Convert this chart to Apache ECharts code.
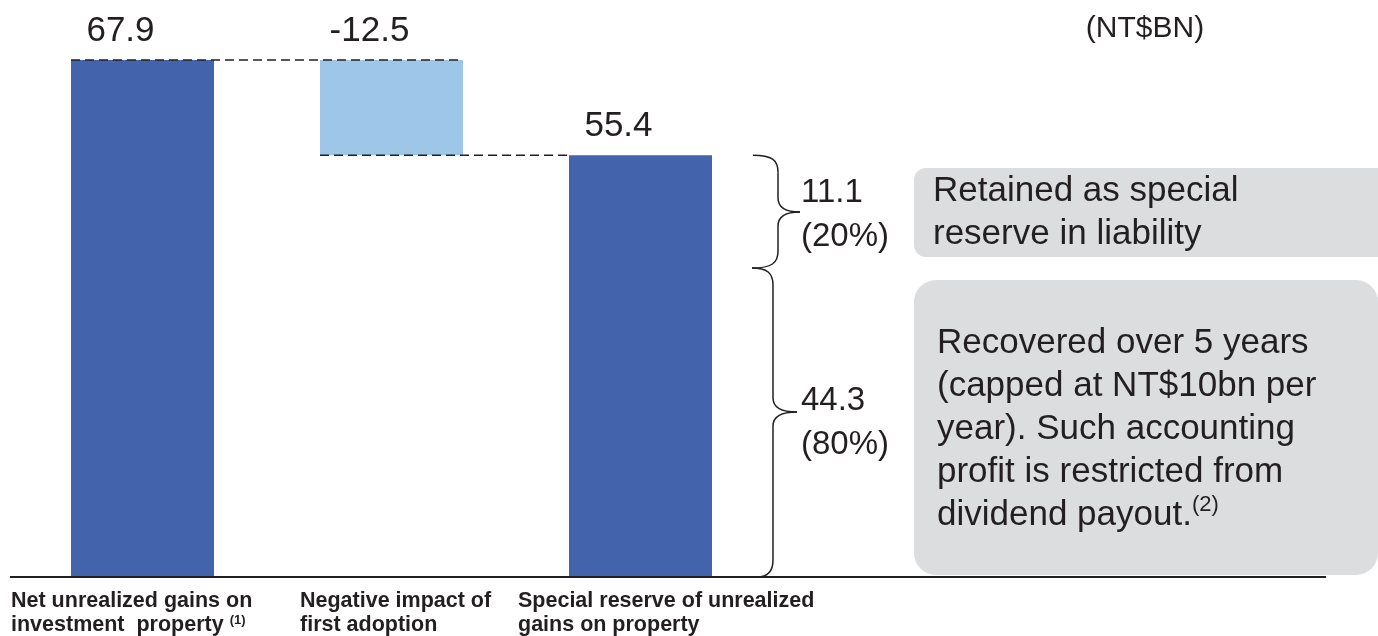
<!DOCTYPE html>
<html><head><meta charset="utf-8">
<script src="https://cdn.jsdelivr.net/npm/echarts@6/dist/echarts.min.js"></script>
<style>html,body{margin:0;padding:0;background:#fff}#c{width:1378px;height:636px}</style>
</head><body><div id="c"></div>
<script>
// ---- data ----
const categories = ['Net unrealized gains on\ninvestment  property', 'Negative impact of\nfirst adoption', 'Special reserve of unrealized\ngains on property'];
const categoryNotes = ['(1)', '', ''];
const values = [67.9, -12.5, 55.4];
const barKinds = ['start', 'delta', 'total'];
const splitValues = [11.1, 44.3];
const splitShares = ['20%', '80%'];
const unitLabel = '(NT$BN)';
const boxTexts = ['Retained as special\nreserve in liability', 'Recovered over 5 years\n(capped at NT$10bn per\nyear). Such accounting\nprofit is restricted from\ndividend payout.'];
const boxNotes = ['', '(2)'];

// ---- waterfall build ----
const bases = [], heights = [];
let running = 0;
values.forEach((v, i) => {
  const k = barKinds[i];
  if (k === 'start') { bases.push(0); heights.push(v); running = v; }
  else if (k === 'delta') {
    if (v < 0) { bases.push(running + v); heights.push(-v); }
    else { bases.push(running); heights.push(v); }
    running += v;
  } else { bases.push(0); heights.push(v); }
});

const FONT = "'Liberation Sans', Arial, sans-serif";
const TXT = '#231f20';
const DARK = '#4363ad', LIGHT = '#9dc6e8', GRAY = '#dcdddf';
const BAR_W = 143;

const chart = echarts.init(document.getElementById('c'), null, {renderer: 'canvas'});
chart.setOption({
  animation: false,
  grid: {left: 18, width: 747, top: 6, bottom: 59},
  xAxis: {type: 'category', data: categories, show: false},
  yAxis: {type: 'value', min: 0, max: 75, show: false},
  series: [
    {type: 'bar', stack: 'w', data: bases, barWidth: BAR_W, itemStyle: {color: 'transparent'}, silent: true},
    {type: 'bar', stack: 'w', barWidth: BAR_W,
      data: heights.map((h, i) => ({value: h, itemStyle: {color: barKinds[i] === 'delta' ? LIGHT : DARK}})),
      label: {show: true, position: 'top', distance: 11, offset: [-22, 0],
        fontFamily: FONT, fontSize: 35, color: TXT,
        formatter: p => String(values[p.dataIndex])}
    }
  ]
});

const px = (i, v) => chart.convertToPixel({seriesIndex: 1}, [i, v]);
const half = BAR_W / 2;
const yZero = px(0, 0)[1];
const yStart = px(0, heights[0])[1];
const yTotal = px(2, values[2])[1];
const x0L = px(0, 0)[0] - half;
const x1L = px(1, 0)[0] - half, x1R = px(1, 0)[0] + half;
const x2L = px(2, 0)[0] - half;

const g = [];
// baseline
g.push({type: 'line', shape: {x1: 10, y1: yZero, x2: 1326, y2: yZero}, style: {stroke: TXT, lineWidth: 2}, z: 10});
// connectors
g.push({type: 'line', shape: {x1: x0L, y1: yStart, x2: x1R, y2: yStart}, style: {stroke: TXT, lineWidth: 1.5, lineDash: [9, 5]}, z: 10});
g.push({type: 'line', shape: {x1: x1L, y1: yTotal, x2: x2L, y2: yTotal}, style: {stroke: TXT, lineWidth: 1.5, lineDash: [9, 5]}, z: 10});

// braces
const BST = {stroke: TXT, lineWidth: 1.5, fill: null};
function brace(y0, y1, ym, xs, xe0, xe1, xt) {
  const bz = (x1, y1_, cpx1, cpy1, cpx2, cpy2, x2, y2) => g.push({type: 'bezierCurve', z: 10, shape: {x1, y1: y1_, cpx1, cpy1, cpx2, cpy2, x2, y2}, style: BST});
  const ln = (x1, y1_, x2, y2) => g.push({type: 'line', z: 10, shape: {x1, y1: y1_, x2, y2}, style: BST});
  bz(xe0, y0, xs - 6, y0, xs, y0 + 5, xs, y0 + 17);
  ln(xs, y0 + 17, xs, ym - 14);
  bz(xs, ym - 14, xs, ym - 4, xs + 8, ym, xt, ym);
  bz(xt, ym, xs + 8, ym, xs, ym + 4, xs, ym + 14);
  ln(xs, ym + 14, xs, y1 - 17);
  bz(xs, y1 - 17, xs, y1 - 5, xs - 6, y1, xe1, y1);
}
const ySplit = 268;
brace(yTotal, ySplit, 212, 778, 753, 752, 800);
brace(ySplit, yZero, 412, 773, 752, 757, 797);

// brace labels
const braceTops = [171, 379];
splitValues.forEach((v, i) => g.push({type: 'text', x: 801, y: braceTops[i], z: 11,
  style: {text: v.toFixed(1) + '\n(' + splitShares[i] + ')', fontFamily: FONT, fontSize: 33, lineHeight: 44, fill: TXT, align: 'left', verticalAlign: 'top'}}));

// gray boxes
const boxes = [{x: 914, y: 168, w: 520, h: 89, r: 12, tx: 933, ty: 169.5}, {x: 914, y: 280, w: 464, h: 295, r: 22, tx: 937, ty: 321.5}];
boxes.forEach((b, i) => {
  g.push({type: 'rect', shape: {x: b.x, y: b.y, width: b.w, height: b.h, r: b.r}, style: {fill: GRAY}, z: 5});
  g.push({type: 'text', x: b.tx, y: b.ty, z: 11,
    style: {text: boxTexts[i] + (boxNotes[i] ? '{sup|' + boxNotes[i] + '}' : ''), fontFamily: FONT, fontSize: 35, lineHeight: 43, fill: TXT, align: 'left', verticalAlign: 'top',
      rich: {sup: {fontFamily: FONT, fontSize: 22, lineHeight: 38, verticalAlign: 'top', fill: TXT}}}});
});

// unit label
g.push({type: 'text', x: 1145, y: 29, z: 11, style: {text: unitLabel, fontFamily: FONT, fontSize: 30, fill: TXT, align: 'center', verticalAlign: 'middle'}});

// category labels
const catX = [11, 300, 518];
categories.forEach((c, i) => g.push({type: 'text', x: catX[i], y: 589.5, z: 11,
  style: {text: c + (categoryNotes[i] ? ' {sup|' + categoryNotes[i] + '}' : ''), fontFamily: FONT, fontSize: 21.5, fontWeight: 'bold', lineHeight: 24, fill: TXT, align: 'left', verticalAlign: 'top',
    rich: {sup: {fontFamily: FONT, fontSize: 13, fontWeight: 'bold', lineHeight: 18, verticalAlign: 'top', fill: TXT}}}}));

chart.setOption({graphic: g});
</script></body></html>
